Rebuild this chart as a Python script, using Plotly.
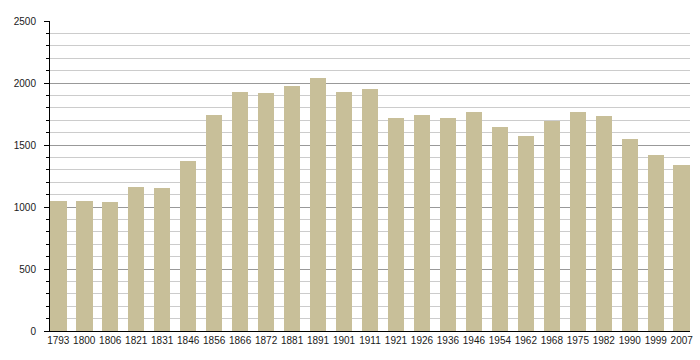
import plotly.graph_objects as go

years = ["1793", "1800", "1806", "1821", "1831", "1846", "1856", "1866", "1872", "1881",
         "1891", "1901", "1911", "1921", "1926", "1936", "1946", "1954", "1962", "1968",
         "1975", "1982", "1990", "1999", "2007"]
population = [1046, 1045, 1038, 1159, 1151, 1371, 1740, 1925, 1917, 1973,
              2038, 1925, 1948, 1715, 1740, 1715, 1764, 1643, 1570, 1696,
              1764, 1731, 1546, 1417, 1336]

n = len(years)
xs = list(range(n))

fig = go.Figure(go.Bar(
    x=xs, y=population, width=0.636,
    marker=dict(color="#c8bf99", line=dict(width=0)),
))

fig.update_layout(
    width=700, height=360,
    margin=dict(l=50, r=10, t=21, b=29, autoexpand=False),
    paper_bgcolor="white", plot_bgcolor="white",
    font=dict(family="Liberation Sans, Arial, sans-serif", size=10, color="#1a1a1a"),
    showlegend=False,
    bargap=0,
)
fig.update_xaxes(
    range=[-0.318, n - 1 + 0.318],
    tickmode="array", tickvals=xs, ticktext=years,
    showgrid=False, zeroline=False, automargin=False,
    showline=True, linecolor="black", linewidth=1,
    ticks="", ticklen=0,
)
fig.update_yaxes(
    range=[0, 2500], dtick=500, tick0=0, automargin=False,
    showgrid=True, gridcolor="#999999", gridwidth=1,
    zeroline=False,
    showline=True, linecolor="black", linewidth=1,
    ticks="outside", ticklen=5, tickcolor="black", tickwidth=1,
    ticklabelstandoff=6,
    minor=dict(dtick=100, showgrid=True, gridcolor="#cccccc", gridwidth=1,
               ticks="outside", ticklen=3, tickcolor="black"),
)

fig.write_html("out.html", config={"displayModeBar": False},
               post_script="document.body.style.margin='0';")
